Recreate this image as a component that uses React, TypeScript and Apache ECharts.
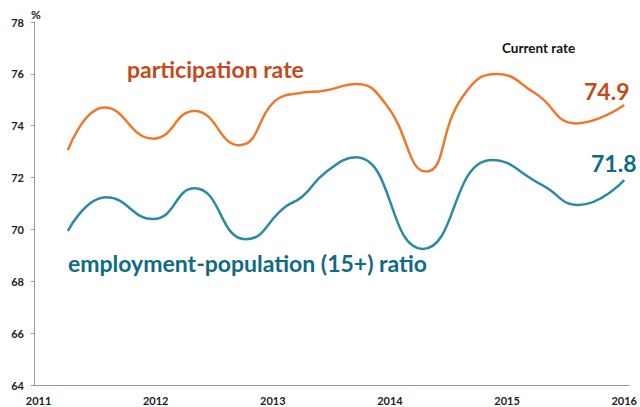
import React, { useEffect, useRef } from "react";
import * as echarts from "echarts";

const participationRate: [number, number][] = [
  [2011.25, 73.06],
  [2011.565, 74.7],
  [2011.98, 73.5],
  [2012.33, 74.57],
  [2012.71, 73.25],
  [2013.05, 75.06],
  [2013.22, 75.25],
  [2013.45, 75.36],
  [2013.71, 75.61],
  [2013.96, 74.86],
  [2014.31, 72.23],
  [2014.62, 75.12],
  [2014.91, 75.99],
  [2015.24, 75.25],
  [2015.59, 74.09],
  [2016.0, 74.8],
];

const employmentRatio: [number, number][] = [
  [2011.25, 69.94],
  [2011.58, 71.24],
  [2011.98, 70.4],
  [2012.33, 71.59],
  [2012.77, 69.62],
  [2013.11, 70.88],
  [2013.25, 71.26],
  [2013.45, 72.2],
  [2013.71, 72.78],
  [2014.28, 69.25],
  [2014.87, 72.68],
  [2015.3, 71.71],
  [2015.61, 70.94],
  [2016.0, 71.9],
];

const yearTicks = [2011, 2012, 2013, 2014, 2015, 2016];
const currentParticipation = "74.9";
const currentEmployment = "71.8";

const ORANGE_LINE = "#EC7A2E";
const ORANGE_TEXT = "#C24B1C";
const TEAL_LINE = "#2E8AA0";
const TEAL_TEXT = "#0F6A84";

export default function App() {
  const ref = useRef<HTMLDivElement>(null);
  useEffect(() => {
    if (!ref.current) return;
    const chart = echarts.init(ref.current, null, { renderer: "svg" });
    chart.setOption({
      animation: false,
      grid: { left: 34, right: 9, top: 22, bottom: 22, containLabel: false },
      xAxis: {
        type: "value",
        min: 2010.961,
        max: 2016.043,
        splitLine: { show: false },
        axisLine: { show: true, lineStyle: { color: "#999", width: 1 } },
        axisTick: { show: false },
        axisLabel: {
          customValues: yearTicks,
          formatter: (v: number) => String(Math.round(v)),
          fontFamily: "Lato",
          fontWeight: "bold",
          fontSize: 11,
          color: "#222",
          margin: 10,
        },
      },
      yAxis: {
        type: "value",
        min: 64,
        max: 78,
        interval: 2,
        splitLine: { show: false },
        axisLine: { show: true, lineStyle: { color: "#999", width: 1 } },
        axisTick: { show: true, length: 3, lineStyle: { color: "#999" } },
        axisLabel: {
          fontFamily: "Lato",
          fontWeight: "bold",
          fontSize: 11,
          color: "#222",
          margin: 10,
        },
      },
      series: [
        {
          name: "participation rate",
          type: "line",
          data: participationRate,
          smooth: 0.5,
          showSymbol: false,
          lineStyle: { color: ORANGE_LINE, width: 2.5 },
        },
        {
          name: "employment-population (15+) ratio",
          type: "line",
          data: employmentRatio,
          smooth: 0.5,
          showSymbol: false,
          lineStyle: { color: TEAL_LINE, width: 2.5 },
        },
      ],
      graphic: [
        {
          type: "text",
          left: 31,
          top: 8,
          style: { text: "%", fontFamily: "Lato", fontWeight: "bold", fontSize: 12, fill: "#222" },
        },
        {
          type: "text",
          left: 127,
          top: 57,
          style: {
            text: "participation rate",
            fontFamily: "Lato",
            fontWeight: "bold",
            fontSize: 23,
            fill: ORANGE_TEXT,
          },
        },
        {
          type: "text",
          left: 68,
          top: 251,
          style: {
            text: "employment-population (15+) ratio",
            fontFamily: "Lato",
            fontWeight: "bold",
            fontSize: 23,
            fill: TEAL_TEXT,
          },
        },
        {
          type: "text",
          left: 502,
          top: 41,
          style: { text: "Current rate", fontFamily: "Lato", fontWeight: "bold", fontSize: 13.5, fill: "#111" },
        },
        {
          type: "text",
          left: 584,
          top: 79,
          style: {
            text: currentParticipation,
            fontFamily: "Lato",
            fontWeight: "bold",
            fontSize: 23,
            fill: ORANGE_TEXT,
          },
        },
        {
          type: "text",
          left: 591,
          top: 151,
          style: {
            text: currentEmployment,
            fontFamily: "Lato",
            fontWeight: "bold",
            fontSize: 23,
            fill: TEAL_TEXT,
          },
        },
      ],
    });
    return () => chart.dispose();
  }, []);
  return (
    <div
      ref={ref}
      style={{ position: "fixed", left: 0, top: 0, width: 640, height: 407, background: "#fff" }}
    />
  );
}
